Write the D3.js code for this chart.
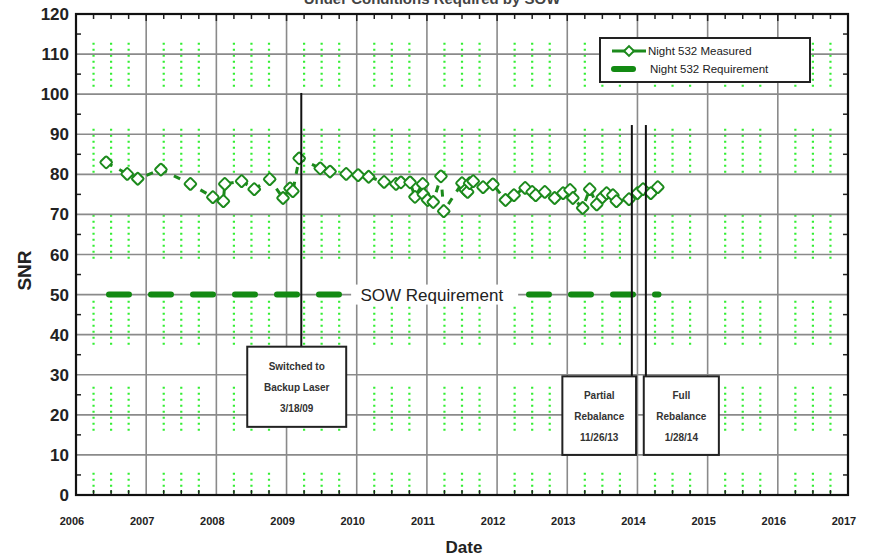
<!DOCTYPE html>
<html>
<head>
<meta charset="utf-8">
<script src="https://cdn.jsdelivr.net/npm/d3@7"></script>
<style>
  body { margin: 0; background: #fff; }
  svg { display: block; font-family: Arial, "Liberation Sans", sans-serif; }
</style>
</head>
<body>
<svg width="872" height="556"></svg>
<script>
// measured night 532 SNR, dates as decimal years
var dates = [2006.43, 2006.73, 2006.88, 2007.21, 2007.63, 2007.95, 2008.10, 2008.12, 2008.36, 2008.54,
  2008.76, 2008.95, 2009.05, 2009.09, 2009.18, 2009.48, 2009.62, 2009.85, 2010.02, 2010.17,
  2010.39, 2010.56, 2010.63, 2010.76, 2010.83, 2010.94, 2010.95, 2011.01, 2011.09, 2011.20,
  2011.24, 2011.50, 2011.55, 2011.58, 2011.61, 2011.66, 2011.80, 2011.94, 2012.12, 2012.24,
  2012.40, 2012.50, 2012.55, 2012.68, 2012.82, 2012.94, 2013.04, 2013.08, 2013.22, 2013.32,
  2013.42, 2013.50, 2013.56, 2013.65, 2013.70, 2013.88, 2014.00, 2014.08, 2014.19, 2014.29];
var snr = [83.0, 80.1, 78.9, 81.2, 77.6, 74.3, 73.3, 77.6, 78.3, 76.3,
  78.8, 74.1, 76.5, 75.8, 84.0, 81.5, 80.7, 80.1, 79.8, 79.4,
  78.1, 77.6, 78.0, 78.0, 74.4, 77.6, 75.0, 73.6, 73.1, 79.5,
  70.8, 77.8, 76.1, 75.6, 77.8, 78.3, 76.8, 77.5, 73.6, 74.8,
  76.6, 75.6, 74.8, 75.6, 74.1, 75.3, 76.1, 74.1, 71.6, 76.3,
  72.5, 74.3, 75.3, 74.8, 73.3, 73.8, 75.3, 76.3, 75.3, 76.8];

var reqDates = [2006.47, 2014.3];
var reqValue = [50, 50];

var yearTicks = [2006, 2007, 2008, 2009, 2010, 2011, 2012, 2013, 2014, 2015, 2016, 2017];
var snrTicks = [0, 10, 20, 30, 40, 50, 60, 70, 80, 90, 100, 110, 120];

var events = [
  {date: 2009.21, top: 100.3, lines: ["Switched to", "Backup Laser", "3/18/09"], box: [2008.44, 2009.85, 37, 17]},
  {date: 2013.92, top: 92.3, lines: ["Partial", "Rebalance", "11/26/13"], box: [2012.93, 2013.98, 29.6, 10]},
  {date: 2014.12, top: 92.3, lines: ["Full", "Rebalance", "1/28/14"], box: [2014.09, 2015.16, 29.6, 10]}
];

(function() {
var svg = d3.select('svg');
var mLeft = 76, mRight = 848, mTop = 14, mBottom = 495;

var x = d3.scaleLinear().domain([2006, 2017]).range([mLeft, mRight]);
var y = d3.scaleLinear().domain([0, 120]).range([mBottom, mTop]);

var darkGreen = '#1c8a1c';

// title, cut off at top
svg.append('text')
  .attr('x', 432).attr('y', 4)
  .attr('text-anchor', 'middle')
  .style('font-size', '15px').style('font-weight', 'bold').style('fill', '#444')
  .text('Under Conditions Required by SOW');

// green dotted minor lines at quarter years
var quarters = [];
yearTicks.slice(0, -1).forEach(function(yr) { quarters.push(yr + 0.25, yr + 0.5, yr + 0.75); });
var segs = [];
for (var s = y(112.8); s < mBottom; s += 86) segs.push([s, Math.min(s + 45, mBottom - 1)]);
quarters.forEach(function(q) {
  segs.forEach(function(sg) {
    svg.append('line')
      .attr('x1', x(q)).attr('x2', x(q))
      .attr('y1', sg[0]).attr('y2', sg[1])
      .attr('stroke', '#33ee33').attr('stroke-width', 2.2)
      .attr('stroke-dasharray', '2,4');
  });
});

// gray major grid
svg.append('g').selectAll('line').data(yearTicks.slice(1, -1)).enter().append('line')
  .attr('x1', d => x(d)).attr('x2', d => x(d))
  .attr('y1', mTop).attr('y2', mBottom)
  .attr('stroke', '#8a8a8a').attr('stroke-width', 1.6);
svg.append('g').selectAll('line').data(snrTicks.slice(1, -1)).enter().append('line')
  .attr('x1', mLeft).attr('x2', mRight)
  .attr('y1', d => y(d)).attr('y2', d => y(d))
  .attr('stroke', '#8a8a8a').attr('stroke-width', 1.6);

// minor ticks inside the frame
var halfTicks = d3.range(5, 120, 10);
svg.append('g').selectAll('line').data(halfTicks).enter().append('line')
  .attr('x1', mLeft).attr('x2', mLeft + 5).attr('y1', d => y(d)).attr('y2', d => y(d))
  .attr('stroke', '#222').attr('stroke-width', 1.5);
svg.append('g').selectAll('line').data(halfTicks).enter().append('line')
  .attr('x1', mRight).attr('x2', mRight - 5).attr('y1', d => y(d)).attr('y2', d => y(d))
  .attr('stroke', '#222').attr('stroke-width', 1.5);
svg.append('g').selectAll('line').data(quarters).enter().append('line')
  .attr('x1', d => x(d)).attr('x2', d => x(d)).attr('y1', mTop).attr('y2', mTop + 5)
  .attr('stroke', '#222').attr('stroke-width', 1.5);
svg.append('g').selectAll('line').data(quarters).enter().append('line')
  .attr('x1', d => x(d)).attr('x2', d => x(d)).attr('y1', mBottom).attr('y2', mBottom - 5)
  .attr('stroke', '#222').attr('stroke-width', 1.5);
svg.append('g').selectAll('line').data(yearTicks).enter().append('line')
  .attr('x1', d => x(d)).attr('x2', d => x(d)).attr('y1', mTop).attr('y2', mTop + 7)
  .attr('stroke', '#222').attr('stroke-width', 1.5);

// axis tick labels
svg.append('g').selectAll('text').data(snrTicks).enter().append('text')
  .attr('x', mLeft - 7).attr('y', d => y(d) + 6)
  .attr('text-anchor', 'end')
  .style('font-size', '17px').style('font-weight', 'bold').style('fill', '#222')
  .text(d => d);
svg.append('g').selectAll('text').data(yearTicks).enter().append('text')
  .attr('x', d => x(d) - 4).attr('y', 525)
  .attr('text-anchor', 'middle')
  .style('font-size', '11px').style('font-weight', 'bold').style('fill', '#222')
  .text(d => d);

svg.append('text')
  .attr('transform', 'translate(31,' + ((mTop + mBottom) / 2 + 16) + ') rotate(-90)')
  .attr('text-anchor', 'middle')
  .style('font-size', '19px').style('font-weight', 'bold').style('fill', '#222')
  .text('SNR');
svg.append('text')
  .attr('x', (mLeft + mRight) / 2 + 2).attr('y', 553)
  .attr('text-anchor', 'middle')
  .style('font-size', '17px').style('font-weight', 'bold').style('fill', '#222')
  .text('Date');

// requirement line
svg.append('path')
  .datum(reqDates.map((d, i) => [d, reqValue[i]]))
  .attr('d', d3.line().x(d => x(d[0])).y(d => y(d[1])))
  .attr('fill', 'none').attr('stroke', '#138a13').attr('stroke-width', 6)
  .attr('stroke-dasharray', '20,22').attr('stroke-linecap', 'round');

svg.append('rect')
  .attr('x', x(2009.92)).attr('y', y(50) - 10)
  .attr('width', x(2012.3) - x(2009.92)).attr('height', 20)
  .attr('fill', '#fff');
svg.append('text')
  .attr('x', x(2011.07)).attr('y', y(50) + 6)
  .attr('text-anchor', 'middle')
  .style('font-size', '17px').style('fill', '#222')
  .text('SOW Requirement');

// measured series
var pts = dates.map((d, i) => [d, snr[i]]);
svg.append('path')
  .datum(pts)
  .attr('d', d3.line().x(d => x(d[0])).y(d => y(d[1])))
  .attr('fill', 'none').attr('stroke', darkGreen).attr('stroke-width', 3)
  .attr('stroke-dasharray', '7,8');

svg.append('g').selectAll('rect').data(pts).enter().append('rect')
  .attr('x', -4.5).attr('y', -4.5).attr('width', 9).attr('height', 9)
  .attr('rx', 1.5)
  .attr('transform', d => 'translate(' + x(d[0]) + ',' + y(d[1]) + ') rotate(45)')
  .attr('fill', '#fff').attr('stroke', darkGreen).attr('stroke-width', 2);

// event markers and boxes
events.forEach(function(ev) {
  svg.append('line')
    .attr('x1', x(ev.date)).attr('x2', x(ev.date))
    .attr('y1', y(ev.top)).attr('y2', y(ev.box[2]))
    .attr('stroke', '#111').attr('stroke-width', 2);
  var bx = x(ev.box[0]), bw = x(ev.box[1]) - x(ev.box[0]);
  var by = y(ev.box[2]), bh = y(ev.box[3]) - y(ev.box[2]);
  svg.append('rect')
    .attr('x', bx).attr('y', by).attr('width', bw).attr('height', bh)
    .attr('fill', '#fff').attr('stroke', '#222').attr('stroke-width', 2);
  ev.lines.forEach(function(t, i) {
    svg.append('text')
      .attr('x', bx + bw / 2).attr('y', by + 23 + i * 21)
      .attr('text-anchor', 'middle')
      .style('font-size', '10px').style('font-weight', 'bold').style('fill', '#333')
      .text(t);
  });
});

// frame
svg.append('rect')
  .attr('x', mLeft).attr('y', mTop).attr('width', mRight - mLeft).attr('height', mBottom - mTop)
  .attr('fill', 'none').attr('stroke', '#111').attr('stroke-width', 2.2);

// legend
var lg = svg.append('g').attr('transform', 'translate(600,38)');
lg.append('rect').attr('width', 210).attr('height', 44)
  .attr('fill', '#fff').attr('stroke', '#222').attr('stroke-width', 2);
lg.append('line').attr('x1', 12).attr('x2', 46).attr('y1', 13).attr('y2', 13)
  .attr('stroke', darkGreen).attr('stroke-width', 3);
lg.append('rect').attr('x', -3.5).attr('y', -3.5).attr('width', 7).attr('height', 7)
  .attr('transform', 'translate(29,13) rotate(45)')
  .attr('fill', '#fff').attr('stroke', darkGreen).attr('stroke-width', 2);
lg.append('text').attr('x', 48).attr('y', 17)
  .style('font-size', '11.5px').style('fill', '#222').text('Night 532 Measured');
lg.append('line').attr('x1', 14).attr('x2', 33).attr('y1', 31).attr('y2', 31)
  .attr('stroke', '#138a13').attr('stroke-width', 6).attr('stroke-linecap', 'round');
lg.append('text').attr('x', 50).attr('y', 35)
  .style('font-size', '11.5px').style('fill', '#222').text('Night 532 Requirement');
})();
</script>
</body>
</html>
